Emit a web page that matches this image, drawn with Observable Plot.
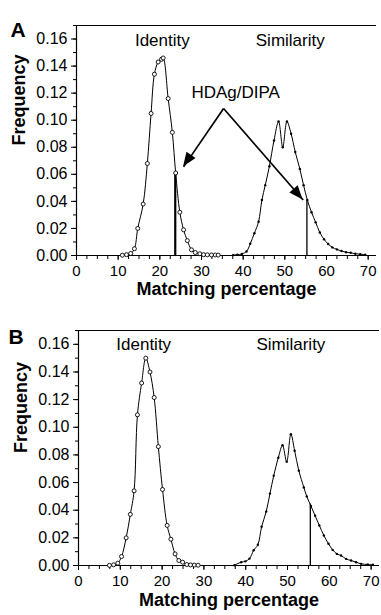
<!DOCTYPE html>
<html>
<head>
<meta charset="utf-8">
<script src="https://cdn.jsdelivr.net/npm/d3@7"></script>
<script src="https://cdn.jsdelivr.net/npm/@observablehq/plot@0.6"></script>
<style>
  body { margin: 0; background: white; }
  #chart { width: 381px; }
  #chart svg { display: block; }
</style>
</head>
<body>
<div id="chart"></div>
<script>
// ---- Panel A data ----
const identityA_x = [11.0,12.0,13.0,13.9,14.7,16.0,17.0,17.9,18.7,19.6,20.4,20.8,22.0,23.0,23.8,24.8,25.7,26.6,27.6,28.5,29.6,30.5,31.4,32.4,33.3,34.0];
const identityA_y = [0.0002,0.0006,0.0015,0.005,0.020,0.038,0.068,0.105,0.134,0.143,0.145,0.146,0.116,0.091,0.061,0.032,0.019,0.011,0.0042,0.0022,0.0013,0.0006,0.0005,0.0004,0.0004,0.0003];
const similarityA_x = [37.6,38.6,39.7,40.8,41.7,42.7,43.7,44.5,45.3,46.3,47.4,48.5,49.5,50.5,51.5,52.5,53.6,54.5,55.4,56.4,57.4,58.4,59.4,60.4,61.4,62.5,63.6,64.7,65.8,66.9,68.1,69.3];
const similarityA_y = [0.0003,0.0006,0.0012,0.003,0.0087,0.0165,0.025,0.041,0.052,0.066,0.085,0.099,0.080,0.099,0.090,0.0765,0.064,0.052,0.041,0.032,0.0245,0.017,0.012,0.0085,0.006,0.0045,0.0033,0.0024,0.002,0.0013,0.001,0.0006];
const markersA_x = [23.7, 55.3];
const markersA_top = [0.061, 0.041];
const markersA_width = [2.2, 1.3];
const arrowA_from = [35.3, 0.1087];
const arrowA_to_x = [25.7, 54.4];
const arrowA_to_y = [0.0655, 0.041];

// ---- Panel B data ----
const identityB_x = [7.4,8.4,9.4,10.3,11.4,12.4,13.3,14.1,15.1,16.1,17.1,18.1,19.1,20.1,21.2,22.1,23.1,24.0,24.9,25.9,26.8,27.7,28.6];
const identityB_y = [0.0001,0.0005,0.0017,0.0065,0.020,0.037,0.054,0.109,0.132,0.150,0.140,0.1215,0.086,0.055,0.029,0.019,0.0084,0.0036,0.0024,0.0007,0.0004,0.0003,0.0002];
const similarityB_x = [37.3,38.9,39.9,40.9,41.9,42.9,43.8,44.9,45.8,46.7,47.8,48.8,49.8,50.8,51.7,52.7,53.9,54.6,55.6,56.6,57.6,58.7,59.8,60.8,61.8,62.8,64.0,65.2,66.4,67.6,69.2,70.4];
const similarityB_y = [0.0002,0.0024,0.003,0.005,0.011,0.015,0.028,0.039,0.052,0.065,0.078,0.087,0.075,0.095,0.083,0.0686,0.0565,0.050,0.043,0.036,0.029,0.0217,0.0157,0.0113,0.0084,0.0072,0.0048,0.0036,0.0024,0.0012,0.0007,0.0005];
const markersB_x = [55.45];
const markersB_top = [0.0445];
const markersB_width = [1.3];

// ---- Tick labels / texts ----
const xTicks = [0,10,20,30,40,50,60,70];
const yTicks = [0,0.02,0.04,0.06,0.08,0.10,0.12,0.14,0.16];
const xTitle = "Matching percentage";
const yTitle = "Frequency";
const curveLabels = ["Identity", "Similarity"];
const arrowLabel = "HDAg/DIPA";

const FONT = "'Liberation Sans', Arial, Helvetica, sans-serif";

const zip = (xs, ys) => xs.map((x, i) => ({x, y: ys[i]}));

function panel(cfg) {
  const ident = zip(cfg.ix, cfg.iy);
  const simil = zip(cfg.sx, cfg.sy);
  const markers = cfg.mx.map((x, i) => ({x, top: cfg.mt[i], w: cfg.mw[i]}));
  const arrows = (cfg.arrowTo || []).map(([x2, y2]) => ({x1: cfg.arrowFrom[0], y1: cfg.arrowFrom[1], x2, y2}));
  const marks = [
    Plot.ruleY([0.17], {stroke: "black", strokeWidth: 1.2}),
    Plot.ruleY([0], {stroke: "black", strokeWidth: 1.2}),
    Plot.ruleX([0], {stroke: "black", strokeWidth: 1.2}),
    Plot.axisY({ticks: d3.range(0, 0.1701, 0.01), tickSize: 3, text: null, label: null}),
    Plot.axisY({ticks: yTicks, tickSize: 5, tickPadding: 4, tickFormat: d3.format(".2f"), label: null, fontSize: 16}),
    Plot.axisX({ticks: d3.range(0, 72.01, 2.5), tickSize: 4, text: null, label: null}),
    Plot.axisX({ticks: xTicks, tickSize: 5, tickPadding: 5, label: null, fontSize: 15}),
    ...markers.map(m => Plot.ruleX([m], {x: "x", y1: 0, y2: "top", stroke: "black", strokeWidth: m.w})),
    Plot.line(ident, {x: "x", y: "y", curve: "catmull-rom", stroke: "black", strokeWidth: 1}),
    Plot.dot(ident, {x: "x", y: "y", r: 2, stroke: "black", strokeWidth: 0.9, fill: "white"}),
    Plot.line(simil, {x: "x", y: "y", curve: "catmull-rom", stroke: "black", strokeWidth: 1}),
    Plot.dot(simil, {x: "x", y: "y", r: 1.2, fill: "black", stroke: "none"}),
    Plot.text([curveLabels[0]], {x: cfg.identLabel[0], y: cfg.identLabel[1], text: d => d, fontSize: 17}),
    Plot.text([curveLabels[1]], {x: cfg.simLabel[0], y: cfg.simLabel[1], text: d => d, fontSize: 17}),
    Plot.text([xTitle], {frameAnchor: "bottom", dy: cfg.titleDy, text: d => d, fontSize: 18, fontWeight: "bold"}),
    Plot.text([yTitle], {frameAnchor: "left", dx: cfg.yTitleDx, dy: 5, rotate: -90, text: d => d, fontSize: 18, fontWeight: "bold"}),
    Plot.text([cfg.letter], {frameAnchor: "top-left", dx: cfg.letterDx, dy: cfg.letterDy, textAnchor: "start", text: d => d, fontSize: 21, fontWeight: "bold"})
  ];
  if (arrows.length) {
    marks.push(Plot.text([arrowLabel], {x: cfg.arrowLabel[0], y: cfg.arrowLabel[1], text: d => d, fontSize: 17}));
    marks.push(Plot.link(arrows, {x1: "x1", y1: "y1", x2: "x2", y2: "y2", stroke: "black", strokeWidth: 1.7}));
    // filled arrowheads, positioned with the plot's own scales
    marks.push((index, scales) => {
      if (!scales || typeof scales.x !== "function") return null;
      const g = d3.create("svg:g");
      for (const a of arrows) {
        const px1 = scales.x(a.x1), py1 = scales.y(a.y1);
        const px2 = scales.x(a.x2), py2 = scales.y(a.y2);
        const dx = px2 - px1, dy = py2 - py1, len = Math.hypot(dx, dy);
        const ux = dx / len, uy = dy / len;
        const L = 14, W = 5.5;
        const bx = px2 - ux * L, by = py2 - uy * L;
        const pts = [[px2, py2], [bx - uy * W, by + ux * W], [bx + uy * W, by - ux * W]];
        g.append("path").attr("d", "M" + pts.map(p => p.join(",")).join("L") + "Z").attr("fill", "black");
      }
      return g.node();
    });
  }
  return Plot.plot({
    width: 381,
    height: cfg.height,
    marginTop: 25,
    marginBottom: 50,
    marginLeft: cfg.ml,
    marginRight: cfg.mr,
    x: {domain: [0, 72], label: null},
    y: {domain: [0, 0.17], label: null},
    style: {fontFamily: FONT, fontSize: "16px", color: "black", background: "white", overflow: "visible"},
    marks
  });
}

const chart = document.getElementById("chart");
chart.append(panel({
  letter: "A", height: 305, ml: 76, mr: 5,
  ix: identityA_x, iy: identityA_y, sx: similarityA_x, sy: similarityA_y,
  mx: markersA_x, mt: markersA_top, mw: markersA_width,
  arrowFrom: arrowA_from, arrowTo: arrowA_to_x.map((x, i) => [x, arrowA_to_y[i]]),
  identLabel: [20.6, 0.159], simLabel: [51.3, 0.159], arrowLabel: [38.2, 0.1205],
  yTitleDx: -57, letterDx: -66, letterDy: -3, titleDy: 39
}));
chart.append(panel({
  letter: "B", height: 310, ml: 78, mr: 2,
  ix: identityB_x, iy: identityB_y, sx: similarityB_x, sy: similarityB_y,
  mx: markersB_x, mt: markersB_top, mw: markersB_width,
  identLabel: [15.6, 0.160], simLabel: [50.8, 0.160],
  yTitleDx: -57, letterDx: -70, letterDy: -1, titleDy: 40
}));
</script>
</body>
</html>
